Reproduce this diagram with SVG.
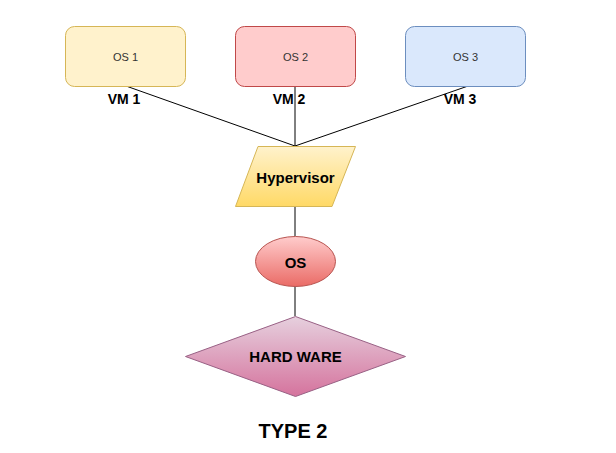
<svg xmlns="http://www.w3.org/2000/svg" width="616" height="453" viewBox="0 0 616 453">
<style>
text{font-family:"Liberation Sans",Arial,sans-serif;text-anchor:middle;dominant-baseline:central}
.os{font-size:11px;fill:#333333}
.b{font-weight:bold;fill:#000000}
.vm{font-size:14px}
.in{font-size:15px}
.conn line{stroke:#000000;stroke-width:1;fill:none}
</style>
<defs>
<linearGradient id="gy" x1="0" y1="0" x2="0" y2="1"><stop offset="0" stop-color="#fff2cc"/><stop offset="1" stop-color="#ffd966"/></linearGradient>
<linearGradient id="gr" x1="0" y1="0" x2="0" y2="1"><stop offset="0" stop-color="#ffcccc"/><stop offset="1" stop-color="#ea6b66"/></linearGradient>
<linearGradient id="gp" x1="0" y1="0" x2="0" y2="1"><stop offset="0" stop-color="#e6d0de"/><stop offset="1" stop-color="#d5739d"/></linearGradient>
</defs>
<rect width="616" height="453" fill="#ffffff"/>
<g class="conn" id="connectors">
<line x1="126" y1="86" x2="295" y2="146"/>
<line x1="295" y1="86" x2="295" y2="146"/>
<line x1="471" y1="85" x2="295" y2="146"/>
<line x1="295" y1="206" x2="295" y2="236"/>
<line x1="295" y1="286" x2="295" y2="316"/>
</g>
<g id="vm1"><rect x="65.5" y="26.5" width="120" height="60" rx="9" fill="#fff2cc" stroke="#d6b656"/><text class="os" x="125.5" y="56.5">OS 1</text></g>
<g id="vm2"><rect x="235.5" y="26.5" width="120" height="60" rx="9" fill="#ffcccc" stroke="#c04848"/><text class="os" x="295.5" y="56.5">OS 2</text></g>
<g id="vm3"><rect x="405.5" y="26.5" width="120" height="60" rx="9" fill="#dae8fc" stroke="#6c8ebf"/><text class="os" x="465.5" y="56.5">OS 3</text></g>
<text class="b vm" x="124" y="99">VM 1</text>
<text class="b vm" x="289" y="99">VM 2</text>
<text class="b vm" x="460" y="99">VM 3</text>
<g id="hypervisor"><polygon points="258,146.5 355.5,146.5 332,206.5 235.5,206.5" fill="url(#gy)" stroke="#d6b656"/><text class="b in" x="295.5" y="177">Hypervisor</text></g>
<g id="os"><ellipse cx="295.5" cy="261.5" rx="40" ry="25" fill="url(#gr)" stroke="#b85450"/><text class="b in" x="295.5" y="262">OS</text></g>
<g id="hardware"><polygon points="295.5,316.5 405.5,356.5 295.5,396.5 185.5,356.5" fill="url(#gp)" stroke="#996185"/><text class="b in" x="295.5" y="356.5">HARD WARE</text></g>
<text class="b" x="293" y="431" style="font-size:20px">TYPE 2</text>
</svg>
